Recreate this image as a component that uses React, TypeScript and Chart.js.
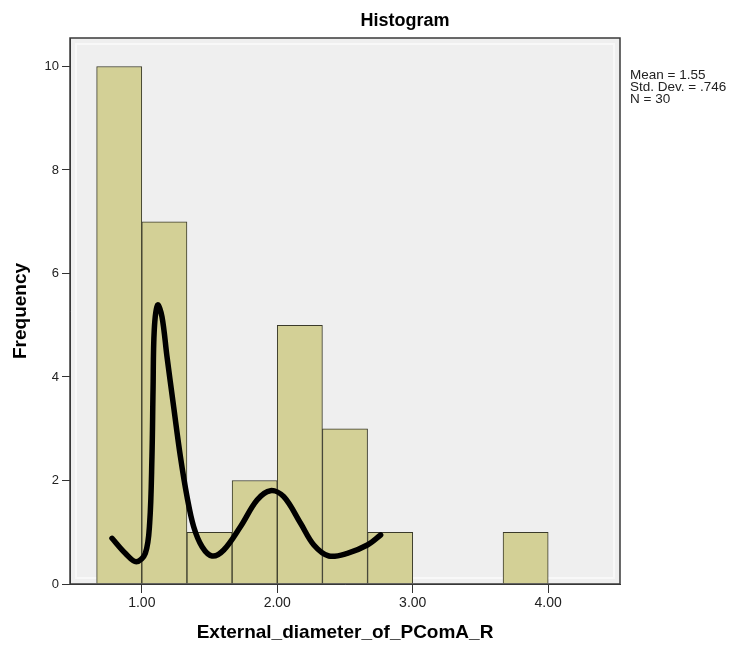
import React, { useEffect, useRef } from "react";
import { Chart, registerables } from "chart.js";

Chart.register(...registerables);

// Histogram bins (centre of each bin, width 1/3)
const binCenters = [0.8333, 1.1667, 1.5, 1.8333, 2.1667, 2.5, 2.8333, 3.8333];
const frequencies = [10, 7, 1, 2, 5, 3, 1, 1];

// Hand-drawn black curve
const curveX = [0.78, 0.878, 0.959, 1.026, 1.058, 1.075, 1.083, 1.092, 1.117, 1.149, 1.186, 1.235, 1.285, 1.334, 1.383, 1.445, 1.519, 1.605, 1.728, 1.851, 1.95, 2.048, 2.172, 2.27, 2.381, 2.517, 2.665, 2.763];
const curveY = [0.883, 0.593, 0.431, 0.593, 1.173, 2.46, 3.749, 4.908, 5.391, 5.165, 4.392, 3.426, 2.46, 1.687, 1.107, 0.721, 0.541, 0.657, 1.107, 1.623, 1.803, 1.687, 1.173, 0.754, 0.541, 0.593, 0.754, 0.947];

const xTicks = [1, 2, 3, 4];
const yTicks = [0, 2, 4, 6, 8, 10];

const titleText = "Histogram";
const statsLines = ["Mean = 1.55", "Std. Dev. = .746", "N = 30"];
const xTitle = "External_diameter_of_PComA_R";
const yTitle = "Frequency";

const FONT = "'Liberation Sans', Arial, sans-serif";

const decorPlugin = {
  id: "decor",
  beforeDraw(chart: any) {
    const { ctx, chartArea: a } = chart;
    ctx.save();
    ctx.fillStyle = "#efefef";
    ctx.fillRect(a.left, a.top, a.right - a.left, a.bottom - a.top);
    ctx.strokeStyle = "#f8f8f8";
    ctx.lineWidth = 2;
    ctx.strokeRect(a.left + 6, a.top + 6, a.right - a.left - 12, a.bottom - a.top - 12);
    ctx.restore();
  },
  afterDraw(chart: any) {
    const { ctx, chartArea: a } = chart;
    ctx.save();
    ctx.strokeStyle = "#3a3a3a";
    ctx.lineWidth = 1.5;
    ctx.strokeRect(a.left, a.top, a.right - a.left, a.bottom - a.top);
    // title
    ctx.fillStyle = "#000";
    ctx.font = `bold 18px ${FONT}`;
    ctx.textAlign = "center";
    ctx.textBaseline = "middle";
    ctx.fillText(titleText, 397, 13);
    // stats
    ctx.font = `13.5px ${FONT}`;
    ctx.textAlign = "left";
    ctx.fillStyle = "#222";
    statsLines.forEach((s, i) => ctx.fillText(s, a.right + 10, 67.5 + i * 12));
    ctx.restore();
  },
};

export default function App() {
  const ref = useRef<HTMLCanvasElement>(null);
  useEffect(() => {
    if (!ref.current) return;
    const chart = new Chart(ref.current, {
      type: "bar",
      data: {
        datasets: [
          {
            type: "line",
            data: curveX.map((x, i) => ({ x, y: curveY[i] })),
            borderColor: "#000",
            borderWidth: 5.5,
            borderCapStyle: "round",
            borderJoinStyle: "round",
            pointRadius: 0,
            tension: 0.35,
            fill: false,
            order: 0,
          } as any,
          {
            type: "bar",
            data: binCenters.map((x, i) => ({ x, y: frequencies[i] })),
            backgroundColor: "#d3d096",
            borderColor: "#3a3a2a",
            borderWidth: 1,
            barPercentage: 1,
            categoryPercentage: 1,
            order: 1,
          } as any,
        ],
      },
      options: {
        animation: false,
        responsive: true,
        maintainAspectRatio: false,
        layout: { padding: { top: 30, right: 113, left: 0, bottom: 0 } },
        plugins: { legend: { display: false }, tooltip: { enabled: false }, title: { display: false } },
        scales: {
          x: {
            type: "linear",
            min: 0.47,
            max: 4.53,
            offset: false,
            afterBuildTicks: (s: any) => {
              s.ticks = xTicks.map((v) => ({ value: v }));
            },
            afterFit: (s: any) => {
              s.height = 66;
            },
            grid: { offset: false, drawOnChartArea: false, tickLength: 9, tickColor: "#333", tickWidth: 1 },
            border: { color: "#333", width: 1 },
            ticks: {
              font: { family: FONT, size: 14 },
              color: "#222",
              padding: 2,
              maxRotation: 0,
              callback: (v: any) => Number(v).toFixed(2),
            },
            title: {
              display: true,
              text: xTitle,
              font: { family: FONT, size: 19, weight: "bold" },
              color: "#000",
              padding: { top: 0, bottom: 6 },
            },
          },
          y: {
            min: 0,
            max: 10.55,
            afterBuildTicks: (s: any) => {
              s.ticks = yTicks.map((v) => ({ value: v }));
            },
            afterFit: (s: any) => {
              s.width = 62;
            },
            grid: { offset: false, drawOnChartArea: false, tickLength: 8, tickColor: "#333", tickWidth: 1 },
            border: { color: "#333", width: 1 },
            ticks: {
              font: { family: FONT, size: 13 },
              color: "#222",
              padding: 3,
            },
            title: {
              display: true,
              text: yTitle,
              font: { family: FONT, size: 19, weight: "bold" },
              color: "#000",
              padding: { top: 1, bottom: 0 },
            },
          },
        },
      } as any,
      plugins: [decorPlugin],
    });
    return () => chart.destroy();
  }, []);
  return (
    <div style={{ width: 725, height: 642, marginBottom: -8, position: "relative" }}>
      <canvas ref={ref} />
    </div>
  );
}
